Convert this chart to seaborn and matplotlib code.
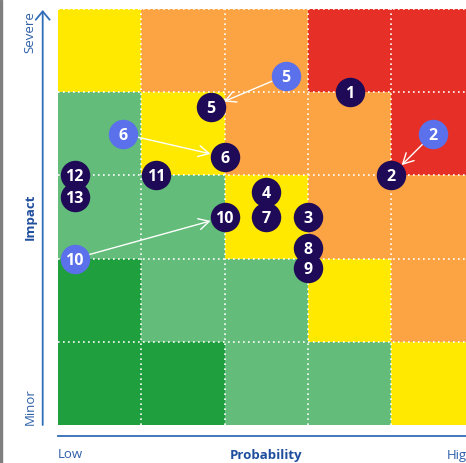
import matplotlib
matplotlib.use("Agg")
import matplotlib.pyplot as plt
import seaborn as sns
import numpy as np
from matplotlib.colors import ListedColormap
from matplotlib.patches import Rectangle
from matplotlib.lines import Line2D

# zone colours: 0 dark green .. 4 red
zone_colors = ['#1F9F3D', '#63BC79', '#FFE900', '#FCA443', '#E63027']
# rows from severe (top) to minor (bottom), columns low -> high probability
risk_grid = [[2, 3, 3, 4, 4],
             [1, 2, 3, 3, 4],
             [1, 1, 2, 3, 3],
             [0, 1, 1, 2, 3],
             [0, 0, 1, 1, 2]]

# current risks, grid units (0..5 from low / minor)
risk_ids = ['1', '2', '3', '4', '5', '6', '7', '8', '9', '10', '11', '12', '13']
prob = [3.5, 4.0, 3.0, 2.5, 1.83, 2.0, 2.5, 3.0, 3.0, 2.0, 1.18, 0.2, 0.2]
impact = [4.0, 3.0, 2.5, 2.8, 3.82, 3.22, 2.5, 2.13, 1.89, 2.5, 3.0, 3.0, 2.74]

# previous positions of the risks that moved
prev_ids = ['5', '6', '2', '10']
prev_prob = [2.73, 0.78, 4.5, 0.2]
prev_impact = [4.2, 3.5, 3.5, 2.0]

W, H = 466, 463
fig = plt.figure(figsize=(W / 100, H / 100), dpi=100)
ax = fig.add_axes([58 / W, 38 / H, 416.7 / W, 416 / H])

sns.heatmap(np.array(risk_grid), cmap=ListedColormap(zone_colors), vmin=-0.5, vmax=4.5,
            cbar=False, ax=ax, xticklabels=False, yticklabels=False)
ax.set_xlim(0, 5)
ax.set_ylim(5, 0)

for k in range(1, 5):
    ax.axhline(k, color='white', lw=1.2, ls=(0, (1, 2)), zorder=2)
    ax.axvline(k, color='white', lw=1.2, ls=(0, (1, 2)), zorder=2)
ax.axhline(0, color='white', lw=1.2, ls=(0, (1, 2)), zorder=2)

navy = '#1F0A57'
blue = '#5B70EB'
num_font = dict(family='Open Sans', weight='bold', size=11.5, color='white')

# arrows from previous to current position
for pid, px, py in zip(prev_ids, prev_prob, prev_impact):
    i = risk_ids.index(pid)
    ax.annotate('', xy=(prob[i], 5 - impact[i]), xytext=(px, 5 - py),
                arrowprops=dict(arrowstyle='->,head_length=0.75,head_width=0.4', color='white',
                                lw=1, shrinkA=10.5, shrinkB=10.5, mutation_scale=10),
                zorder=3)

sns.scatterplot(x=prev_prob, y=[5 - v for v in prev_impact], s=450, color=blue,
                linewidth=0, ax=ax, zorder=4, legend=False)
sns.scatterplot(x=prob, y=[5 - v for v in impact], s=450, color=navy,
                linewidth=0, ax=ax, zorder=4, legend=False)
for lab, x, y in zip(prev_ids, prev_prob, prev_impact):
    ax.text(x, 5 - y, lab, ha='center', va='center_baseline', zorder=5, **num_font)
for lab, x, y in zip(risk_ids, prob, impact):
    ax.text(x, 5 - y, lab, ha='center', va='center_baseline', zorder=5, **num_font)

ax.set_xlabel('')
ax.set_ylabel('')
for s in ax.spines.values():
    s.set_visible(False)

# axis lines drawn on the figure
axis_blue = '#2F6DB8'
fig.add_artist(Line2D([58 / W, 1], [27 / H, 27 / H], color=axis_blue, lw=1.3))
ax.annotate('', xy=(42.7, 453), xytext=(42.7, 38), xycoords='figure pixels',
            textcoords='figure pixels',
            arrowprops=dict(arrowstyle='->,head_length=0.6,head_width=0.5', color=axis_blue,
                            lw=1.3, shrinkA=0, shrinkB=0, mutation_scale=10),
            annotation_clip=False)

lab_font = dict(family='Open Sans', size=9.5, color='#2E5FA8')
fig.text(30 / W, 1 - 32 / H, 'Severe', rotation=90, ha='center', va='center', **lab_font)
fig.text(30 / W, 1 - 407 / H, 'Minor', rotation=90, ha='center', va='center', **lab_font)
fig.text(30 / W, 1 - 217 / H, 'Impact', rotation=90, ha='center', va='center',
         family='Open Sans', weight='bold', size=9.5, color='#1F4E9E')
fig.text(58 / W, 1 - 455 / H, 'Low', ha='left', va='center', **lab_font)
# the reference crops this label at the right edge of the picture
fig.text(474.7 / W, 1 - 455 / H, 'High', ha='right', va='center', **lab_font)
fig.text(266 / W, 1 - 455 / H, 'Probability', ha='center', va='center',
         family='Open Sans', weight='bold', size=9.5, color='#1F4E9E')

# thin grey strip on the left edge of the original screenshot
fig.add_artist(Rectangle((0, 0), 2 / W, 1, transform=fig.transFigure, color='#7F7F7F'))

fig.savefig('out.png', dpi=100)
